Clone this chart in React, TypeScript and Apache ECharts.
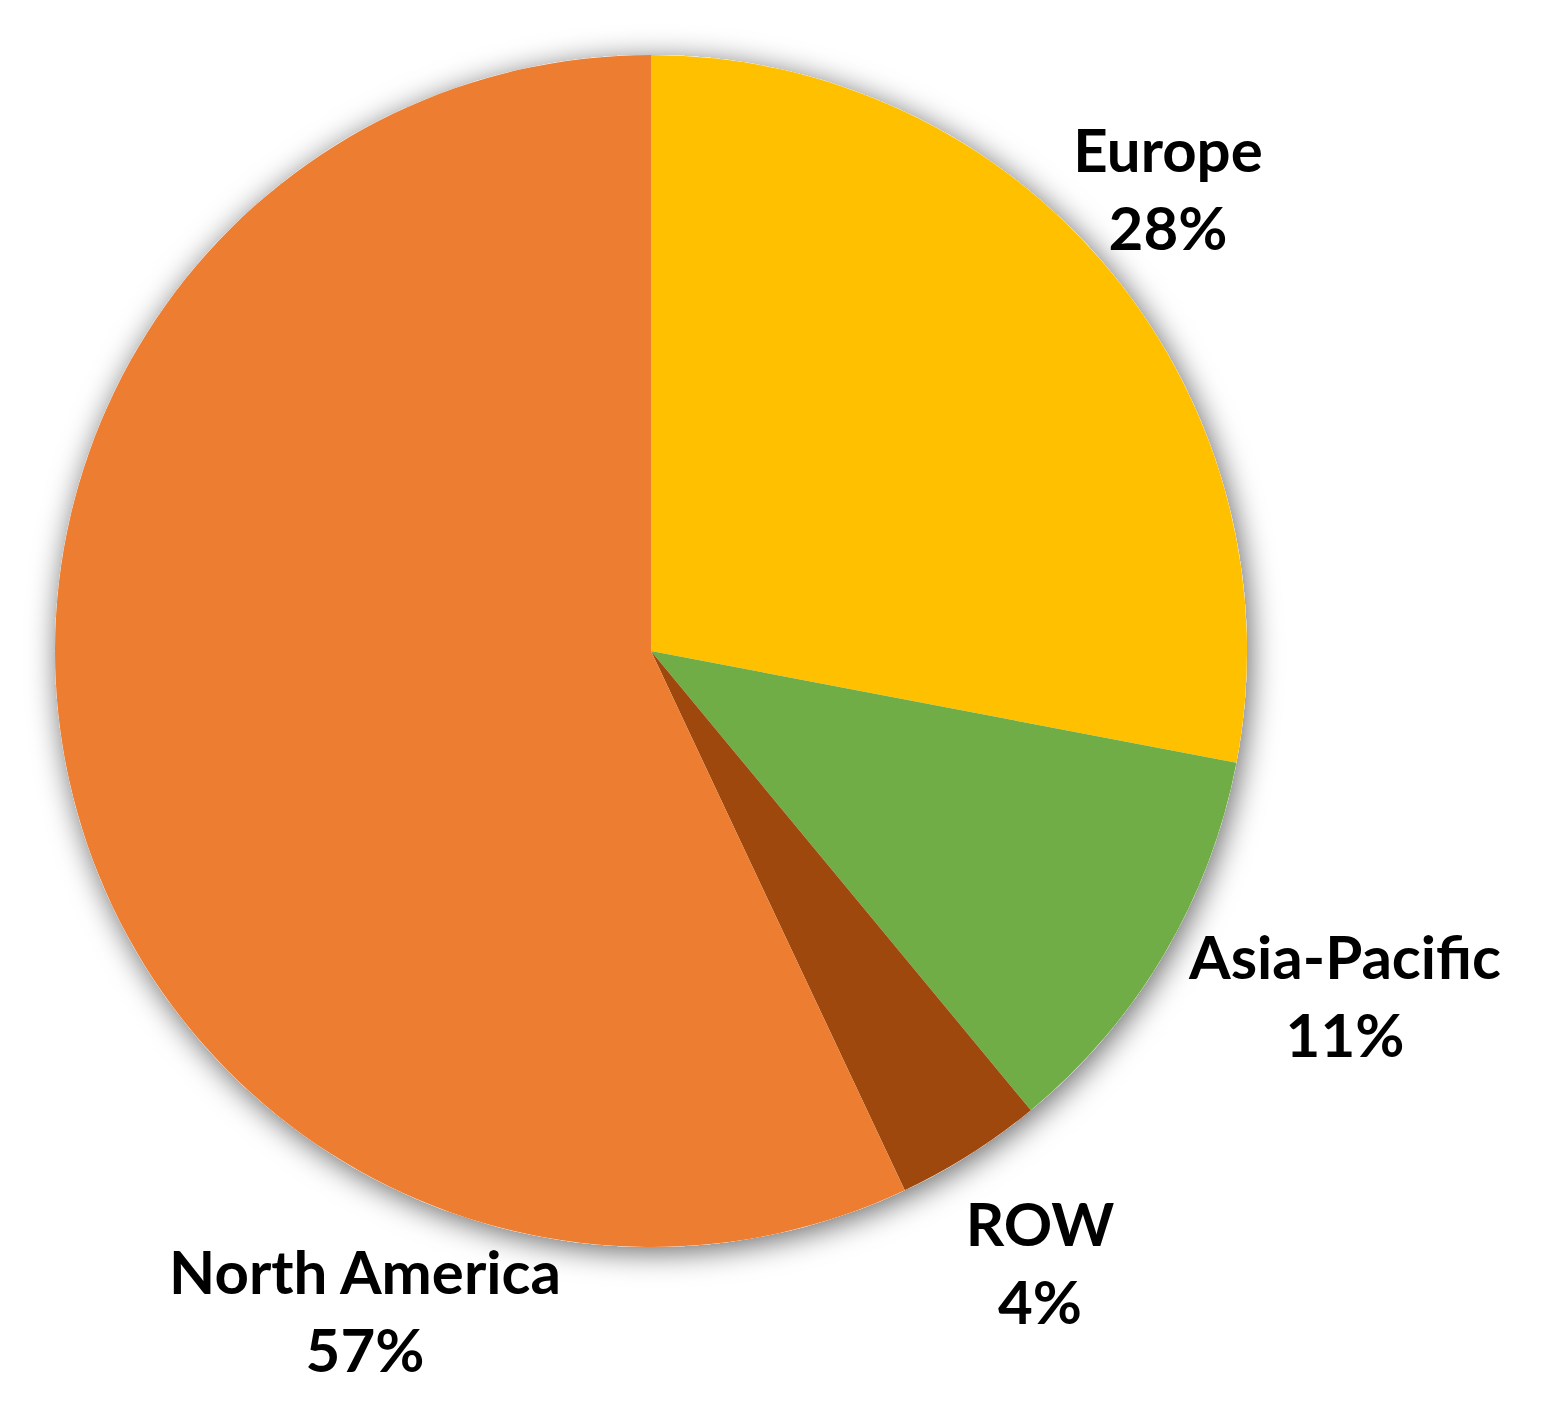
import React, { useEffect, useRef } from "react";
import * as echarts from "echarts";

const regions = ["Europe", "Asia-Pacific", "ROW", "North America"];
const shares = [28, 11, 4, 57];
const colors = ["#FFC000", "#70AD47", "#9E480E", "#ED7D31"];
// label anchor points (chart pixels), layout only
const labelAnchors = [
  [1160, 180],
  [1337, 987],
  [1032, 1254],
  [357, 1302],
];

const CX = 643;
const CY = 643;
const R = 596;

export default function App() {
  const ref = useRef<HTMLDivElement>(null);
  useEffect(() => {
    if (!ref.current) return;
    const chart = echarts.init(ref.current, undefined, { renderer: "svg" });
    chart.setOption({
      animation: false,
      backgroundColor: "#ffffff",
      series: [
        {
          type: "pie",
          silent: true,
          center: [CX, CY],
          radius: [0, R],
          label: { show: false },
          labelLine: { show: false },
          itemStyle: {
            color: "#ffffff",
            shadowBlur: 30,
            shadowColor: "rgba(0,0,0,0.6)",
            shadowOffsetX: 3,
            shadowOffsetY: 5,
          },
          data: [{ value: 1, name: "shadow" }],
          z: 1,
        },
        {
          type: "pie",
          center: [CX, CY],
          radius: [0, R],
          startAngle: 90,
          clockwise: true,
          z: 2,
          itemStyle: { borderWidth: 0 },
          labelLine: { show: false },
          label: {
            show: true,
            position: "inside",
            formatter: (p: any) => `${p.name}\n${Math.round(p.percent)}%`,
            fontFamily: "Lato",
            fontWeight: "bold",
            fontSize: 60,
            lineHeight: 78,
            color: "#000000",
            align: "center",
            overflow: "none",
          },
          labelLayout: (params: any) => {
            const a = labelAnchors[params.dataIndex];
            return { x: a[0], y: a[1], align: "center", verticalAlign: "middle" };
          },
          data: regions.map((n, i) => ({
            name: n,
            value: shares[i],
            itemStyle: { color: colors[i] },
          })),
        },
      ],
    });
    return () => chart.dispose();
  }, []);
  return <div ref={ref} style={{ width: 1540, height: 1408 }} />;
}
